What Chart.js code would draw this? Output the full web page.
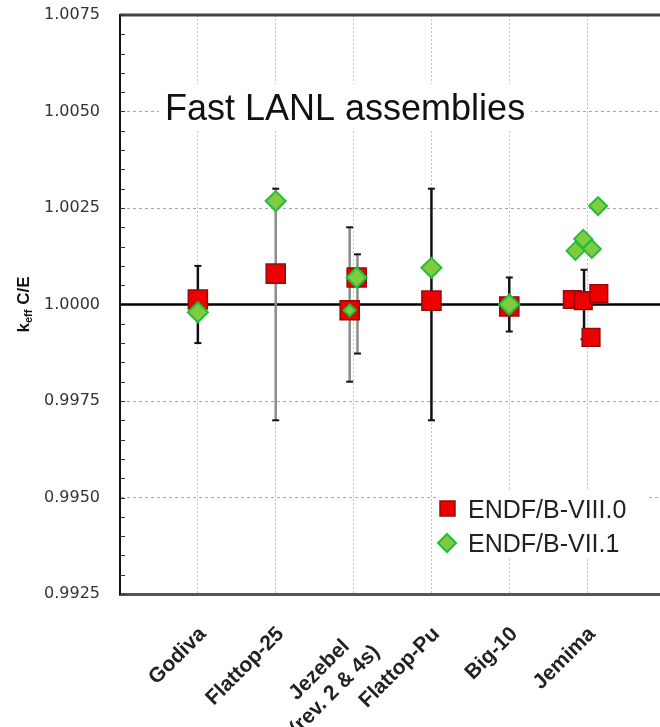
<!DOCTYPE html>
<html>
<head>
<meta charset="utf-8">
<title>Fast LANL assemblies - keff C/E</title>
<script src="https://cdn.jsdelivr.net/npm/chart.js@4.4.1/dist/chart.umd.min.js"></script>
<style>
  html, body { margin: 0; padding: 0; background: #fff; overflow: hidden; }
  canvas { display: block; }
</style>
</head>
<body>
<canvas id="chartCE" width="680" height="727"></canvas>
<script>
// Categories (x = index), Jezebel label is two lines
const categories = ['Godiva', 'Flattop-25', ['Jezebel   ', '(rev. 2 & 4s)'], 'Flattop-Pu', 'Big-10', 'Jemima'];
const xTicks = [-1, 0, 1, 2, 3, 4, 5, 6];
const yTicks = [0.9925, 0.9950, 0.9975, 1.0000, 1.0025, 1.0050, 1.0075];

// ENDF/B-VIII.0 (x = category index, small offsets where a category has several cases)
const viii0X = [0, 1, 1.95, 2.04, 3, 4, 4.81, 4.95, 5.15, 5.05];
const viii0Y = [1.00013, 1.0008, 0.99985, 1.0007, 1.0001, 0.99995, 1.00013, 1.0001, 1.00028, 0.99915];

// ENDF/B-VII.1
const vii1X = [0, 1, 1.95, 2.04, 3, 4, 4.85, 4.95, 5.06, 5.14];
const vii1Y = [0.9998, 1.00268, 0.99985, 1.0007, 1.00095, 1.0000, 1.00139, 1.0017, 1.00144, 1.00255];

// experimental uncertainty bars
const errX = [0, 1, 1.95, 2.05, 3, 4, 4.96];
const errLow = [0.9990, 0.9970, 0.9980, 0.99873, 0.9970, 0.9993, 0.9991];
const errHigh = [1.0010, 1.0030, 1.0020, 1.0013, 1.0030, 1.0007, 1.0009];
const errColors = ['#111', '#8c8c8c', '#8c8c8c', '#8c8c8c', '#111', '#111', '#111'];

const chartTitle = 'Fast LANL assemblies';

const RED = 'rgb(236,0,0)', RED_EDGE = 'rgb(150,10,10)';
const GREEN = 'rgb(128,204,64)', GREEN_EDGE = 'rgb(34,190,60)';

function line(ctx, x1, y1, x2, y2){
  ctx.beginPath(); ctx.moveTo(x1, y1); ctx.lineTo(x2, y2); ctx.stroke();
}

const overlay = {
  id: 'overlay',
  beforeDatasetsDraw(chart){
    const {ctx, chartArea: a, scales: {x, y}} = chart;
    ctx.save();

    // C/E = 1 reference line
    const y1 = y.getPixelForValue(1);
    ctx.strokeStyle = '#000'; ctx.lineWidth = 2.5;
    line(ctx, a.left, y1, a.right, y1);

    // top frame
    ctx.strokeStyle = '#444'; ctx.lineWidth = 3;
    line(ctx, a.left, a.top, a.right, a.top);

    // inward minor ticks on the y axis
    ctx.strokeStyle = '#333'; ctx.lineWidth = 1;
    for(let k = 0; k <= 30; k++){
      const py = Math.round(y.getPixelForValue(0.9925 + k * 0.0005)) + 0.5;
      line(ctx, a.left, py, a.left + 5, py);
    }

    // title inside plot, on white
    ctx.font = '36px "Liberation Sans", Arial, sans-serif';
    ctx.textBaseline = 'alphabetic';
    const tw = ctx.measureText(chartTitle).width;
    const tx = a.left + 45, ty = a.top + 105;
    ctx.fillStyle = '#fff'; ctx.fillRect(tx - 6, ty - 36, tw + 12, 46);
    ctx.fillStyle = '#111'; ctx.fillText(chartTitle, tx, ty);

    // legend box
    const lx = a.left + 317, ly = a.top + 474;
    ctx.fillStyle = '#fff'; ctx.fillRect(lx, ly, 212, 70);
    ctx.font = '25px "Liberation Sans", Arial, sans-serif';
    const red = chart.data.datasets[1], green = chart.data.datasets[0];
    // red square
    ctx.fillStyle = RED; ctx.strokeStyle = RED_EDGE; ctx.lineWidth = 1.5;
    ctx.fillRect(lx + 3, ly + 12, 15, 15); ctx.strokeRect(lx + 3, ly + 12, 15, 15);
    ctx.fillStyle = '#222'; ctx.fillText(red.label, lx + 31, ly + 29);
    // green diamond
    const dx = lx + 10, dy = ly + 54;
    ctx.beginPath();
    ctx.moveTo(dx - 9, dy); ctx.lineTo(dx, dy - 9); ctx.lineTo(dx + 9, dy); ctx.lineTo(dx, dy + 9); ctx.closePath();
    ctx.fillStyle = GREEN; ctx.fill(); ctx.strokeStyle = GREEN_EDGE; ctx.lineWidth = 2; ctx.stroke();
    ctx.fillStyle = '#222'; ctx.fillText(green.label, lx + 31, ly + 63);

    // error bars
    errX.forEach((ex, i) => {
      const px = x.getPixelForValue(ex);
      const pTop = y.getPixelForValue(errHigh[i]), pBot = y.getPixelForValue(errLow[i]);
      ctx.strokeStyle = errColors[i]; ctx.lineWidth = 2.5;
      line(ctx, px, pTop, px, pBot);
      ctx.strokeStyle = '#111'; ctx.lineWidth = 2;
      line(ctx, px - 3.5, pTop, px + 3.5, pTop);
      line(ctx, px - 3.5, pBot, px + 3.5, pBot);
    });
    ctx.restore();
  },
  afterDraw(chart){
    // y axis title: k_eff C/E
    const {ctx, chartArea: a} = chart;
    const big = 'bold 17px "Liberation Sans", Arial, sans-serif';
    const small = 'bold 11px "Liberation Sans", Arial, sans-serif';
    ctx.save();
    ctx.font = big; const wk = ctx.measureText('k').width; const wc = ctx.measureText(' C/E').width;
    ctx.font = small; const we = ctx.measureText('eff').width;
    const total = wk + we + wc;
    ctx.translate(29, (a.top + a.bottom) / 2);
    ctx.rotate(-Math.PI / 2);
    ctx.fillStyle = '#111'; ctx.textBaseline = 'alphabetic';
    let cx = -total / 2;
    ctx.font = big; ctx.fillText('k', cx, 0); cx += wk;
    ctx.font = small; ctx.fillText('eff', cx, 3); cx += we;
    ctx.font = big; ctx.fillText(' C/E', cx, 0);
    ctx.restore();
  }
};

const pts = (xs, ys) => xs.map((v, i) => ({x: v, y: ys[i]}));

new Chart(document.getElementById('chartCE').getContext('2d'), {
  type: 'scatter',
  data: {
    datasets: [
      {
        label: 'ENDF/B-VII.1',
        data: pts(vii1X, vii1Y),
        pointStyle: 'rectRot',
        pointRadius: [10, 10, 6, 10, 10, 10, 9, 9, 9, 9],
        backgroundColor: GREEN,
        borderColor: GREEN_EDGE,
        borderWidth: 2
      },
      {
        label: 'ENDF/B-VIII.0',
        data: pts(viii0X, viii0Y),
        pointStyle: 'rect',
        pointRadius: [13.5, 13.5, 13.5, 13.5, 13.5, 13.5, 12.5, 12.5, 12.5, 12.5],
        backgroundColor: RED,
        borderColor: RED_EDGE,
        borderWidth: 1.5
      }
    ]
  },
  options: {
    responsive: false,
    animation: false,
    events: [],
    layout: {padding: {top: 13, right: 10, left: 0, bottom: 0}},
    plugins: {legend: {display: false}, tooltip: {enabled: false}, title: {display: false}},
    scales: {
      x: {
        type: 'linear',
        min: -1, max: 6,
        afterBuildTicks: s => { s.ticks = xTicks.map(v => ({value: v})); },
        afterFit: s => { s.height = 133; s.paddingLeft = 0; s.paddingRight = 0; },
        grid: {color: '#c4c4c4', lineWidth: 1, drawTicks: false},
        border: {display: true, color: '#555', width: 3, dash: [2, 2]},
        ticks: {
          autoSkip: false, minRotation: 45, maxRotation: 45, padding: 28, labelOffset: 5,
          color: '#222',
          font: {family: '"Liberation Sans", Arial, sans-serif', size: 21, weight: 'bold'},
          callback: v => categories[v] ?? ''
        }
      },
      y: {
        min: 0.9925, max: 1.0075,
        afterBuildTicks: s => { s.ticks = yTicks.map(v => ({value: v})); },
        afterFit: s => { s.width = 120; s.paddingTop = 0; s.paddingBottom = 0; },
        grid: {color: '#a8a8a8', lineWidth: 1, drawTicks: false},
        border: {display: true, color: '#111', width: 2, dash: [3, 3]},
        ticks: {
          padding: 20, color: '#333',
          font: {family: '"DejaVu Sans", sans-serif', size: 16},
          callback: v => v.toFixed(4)
        }
      }
    }
  },
  plugins: [overlay]
});
</script>
</body>
</html>
